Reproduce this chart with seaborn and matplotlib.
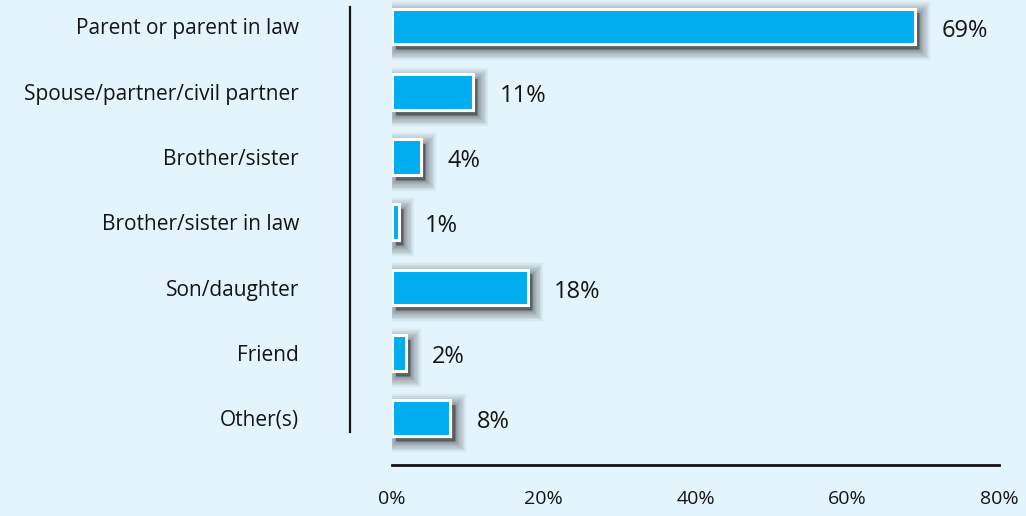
import matplotlib
matplotlib.use("Agg")
import matplotlib.pyplot as plt
import matplotlib.patheffects as pe
import pandas as pd
import seaborn as sns

# Relationship of carer to the person cared for (share of respondents, %)
categories = ["Parent or parent in law", "Spouse/partner/civil partner", "Brother/sister",
              "Brother/sister in law", "Son/daughter", "Friend", "Other(s)"]
shares = [68.9, 10.7, 3.8, 0.9, 17.9, 1.8, 7.7]
x_ticks = [0, 20, 40, 60, 80]
x_tick_labels = ["0%", "20%", "40%", "60%", "80%"]

df = pd.DataFrame({"relationship": categories, "share": shares})

bg = "#E3F4FC"
bar_color = "#00AEEF"
text_color = "#141414"

sns.set_theme(style="white")
plt.rcParams["font.family"] = ["Open Sans", "DejaVu Sans"]

fig = plt.figure(figsize=(10.26, 5.16), dpi=100, facecolor=bg)
ax = fig.add_axes([392 / 1026, 51 / 516, 607 / 1026, 465 / 516])
ax.set_facecolor(bg)

sns.barplot(data=df, y="relationship", x="share", orient="h", color=bar_color,
            saturation=1, width=0.55, edgecolor="white", linewidth=2.2, ax=ax)

# soft drop shadow under each bar (stacked translucent layers fake a blur)
shadow = [pe.SimplePatchShadow(offset=(3, -3.5), shadow_rgbFace="k", alpha=0.058,
                               linewidth=lw, foreground="k")
          for lw in [16, 13, 11, 9, 7, 5, 3.5, 2, 1, 0.3]]
for p in ax.patches:
    p.set_path_effects(shadow + [pe.Normal()])

labels = ax.bar_label(ax.containers[0], fmt="{:.0f}%", padding=19, fontsize=17,
                      color=text_color)
for t in labels:
    t.xyann = (19, -3)

ax.set_xlim(0, 80)
ax.set_ylim(6.72, -0.406)
ax.set_xticks(x_ticks)
ax.set_xticklabels(x_tick_labels)
ax.set_xlabel("")
ax.set_ylabel("")
ax.tick_params(axis="x", length=0, pad=18, labelsize=14, labelcolor=text_color)
ax.tick_params(axis="y", length=0, pad=37, labelsize=15, labelcolor=text_color)

for side in ["top", "right"]:
    ax.spines[side].set_visible(False)
ax.spines["left"].set_position(("outward", 30))
ax.spines["left"].set_bounds(-0.30, 6.21)
ax.spines["left"].set_linewidth(1.6)
ax.spines["left"].set_color(text_color)
ax.spines["bottom"].set_bounds(0, 80)
ax.spines["bottom"].set_linewidth(2)
ax.spines["bottom"].set_color(text_color)

fig.savefig("out.png", dpi=100, facecolor=bg)
